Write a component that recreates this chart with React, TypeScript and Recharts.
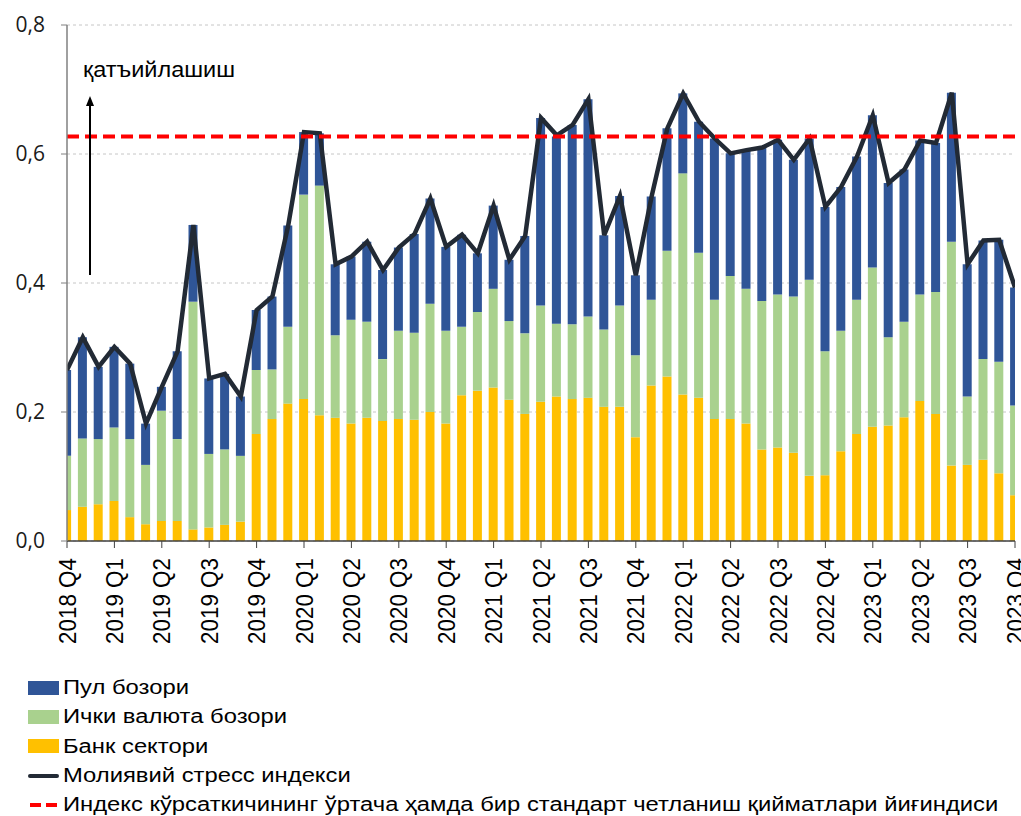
import { Bar, CartesianGrid, ComposedChart, Line, ReferenceLine, XAxis, YAxis } from "recharts";

const quarterLabels = [
  "2018 Q4", "2019 Q1", "2019 Q2", "2019 Q3", "2019 Q4",
  "2020 Q1", "2020 Q2", "2020 Q3", "2020 Q4",
  "2021 Q1", "2021 Q2", "2021 Q3", "2021 Q4",
  "2022 Q1", "2022 Q2", "2022 Q3", "2022 Q4",
  "2023 Q1", "2023 Q2", "2023 Q3", "2023 Q4",
];

// monthly values, Dec 2018 .. Dec 2023
const bankSector = [
  0.048, 0.053, 0.057, 0.062, 0.037, 0.026, 0.031, 0.031, 0.018, 0.021, 0.025, 0.030,
  0.166, 0.189, 0.213, 0.220, 0.195, 0.191, 0.182, 0.191, 0.186, 0.189, 0.188, 0.200,
  0.182, 0.226, 0.233, 0.238, 0.219, 0.197, 0.216, 0.224, 0.220, 0.222, 0.208, 0.208,
  0.161, 0.241, 0.255, 0.227, 0.222, 0.189, 0.189, 0.182, 0.142, 0.145, 0.137, 0.101,
  0.102, 0.139, 0.166, 0.177, 0.179, 0.192, 0.217, 0.197, 0.117, 0.118, 0.126, 0.105,
  0.071,
];

const fxMarket = [
  0.084, 0.106, 0.101, 0.114, 0.121, 0.092, 0.171, 0.127, 0.353, 0.114, 0.117, 0.102,
  0.099, 0.077, 0.119, 0.317, 0.356, 0.128, 0.161, 0.149, 0.096, 0.137, 0.135, 0.168,
  0.144, 0.106, 0.122, 0.153, 0.122, 0.125, 0.149, 0.113, 0.116, 0.126, 0.120, 0.157,
  0.127, 0.133, 0.195, 0.343, 0.225, 0.185, 0.222, 0.209, 0.230, 0.237, 0.242, 0.304,
  0.192, 0.187, 0.208, 0.247, 0.137, 0.148, 0.165, 0.189, 0.347, 0.106, 0.156, 0.173,
  0.139,
];

const moneyMarket = [
  0.133, 0.157, 0.112, 0.125, 0.117, 0.064, 0.037, 0.136, 0.119, 0.117, 0.117, 0.092,
  0.093, 0.113, 0.157, 0.097, 0.081, 0.110, 0.098, 0.124, 0.138, 0.129, 0.153, 0.163,
  0.130, 0.143, 0.091, 0.129, 0.095, 0.151, 0.291, 0.290, 0.309, 0.337, 0.146, 0.170,
  0.124, 0.160, 0.190, 0.124, 0.203, 0.250, 0.190, 0.215, 0.238, 0.240, 0.212, 0.219,
  0.224, 0.223, 0.222, 0.236, 0.239, 0.236, 0.239, 0.231, 0.231, 0.205, 0.184, 0.189,
  0.183,
];

const stressIndex = [
  0.265, 0.316, 0.270, 0.301, 0.275, 0.182, 0.239, 0.294, 0.490, 0.252, 0.259, 0.224,
  0.358, 0.379, 0.489, 0.634, 0.632, 0.429, 0.441, 0.464, 0.420, 0.455, 0.476, 0.531,
  0.456, 0.475, 0.446, 0.520, 0.436, 0.473, 0.656, 0.629, 0.645, 0.685, 0.474, 0.535,
  0.412, 0.534, 0.640, 0.694, 0.650, 0.624, 0.601, 0.606, 0.610, 0.622, 0.591, 0.624,
  0.518, 0.549, 0.596, 0.660, 0.555, 0.576, 0.621, 0.617, 0.695, 0.429, 0.466, 0.467,
  0.393,
];

const threshold = 0.627;

const yTicks = [0, 0.2, 0.4, 0.6, 0.8];

const BLUE = "#2F5597";
const GREEN = "#A9D18E";
const YELLOW = "#FFC000";
const DARK = "#222A35";
const RED = "#FF0000";

const data = bankSector.map((bank, m) => ({
  m,
  bank,
  fx: fxMarket[m],
  money: moneyMarket[m],
  index: stressIndex[m],
}));

function QuarterTick({ x, y, payload }: any) {
  const label = quarterLabels[Math.round(payload.value / 3)];
  return (
    <g transform={`translate(${x},${y + 8})`}>
      <text
        transform="rotate(-90)"
        textAnchor="end"
        dy="0.36em"
        fontSize={24}
        fontFamily="'Liberation Sans', Arial, sans-serif"
        fill="#000"
        textLength={86}
        lengthAdjust="spacingAndGlyphs"
      >
        {label}
      </text>
    </g>
  );
}

const legendItems = [
  { name: "Пул бозори", kind: "box", color: BLUE },
  { name: "Ички валюта бозори", kind: "box", color: GREEN },
  { name: "Банк сектори", kind: "box", color: YELLOW },
  { name: "Молиявий стресс индекси", kind: "line", color: DARK },
  { name: "Индекс кўрсаткичининг ўртача ҳамда бир стандарт четланиш қийматлари йиғиндиси", kind: "dash", color: RED },
];

function LegendIcon({ kind, color }: { kind: string; color: string }) {
  if (kind === "box") return <span style={{ display: "inline-block", width: 31, height: 14, background: color }} />;
  if (kind === "line") return <span style={{ display: "inline-block", width: 31, height: 4, background: color, borderRadius: 2 }} />;
  return (
    <span style={{ display: "inline-flex", width: 31, gap: 5, justifyContent: "center" }}>
      <span style={{ width: 11, height: 4, background: color }} />
      <span style={{ width: 11, height: 4, background: color }} />
    </span>
  );
}

export default function App() {
  return (
    <div style={{ position: "absolute", left: 0, top: 0, width: 1021, height: 816, background: "#fff" }}>
      <ComposedChart width={1021} height={660} data={data} margin={{ top: 25, right: 6, bottom: 0, left: 0 }}>
        <CartesianGrid vertical={false} stroke="#c6c6c6" strokeDasharray="3 3" />
        <Bar dataKey="bank" stackId="s" fill={YELLOW} barSize={9} isAnimationActive={false} />
        <Bar dataKey="fx" stackId="s" fill={GREEN} barSize={9} isAnimationActive={false} />
        <Bar dataKey="money" stackId="s" fill={BLUE} barSize={9} isAnimationActive={false} />
        <Line
          dataKey="index"
          type="linear"
          stroke={DARK}
          strokeWidth={4.5}
          dot={false}
          isAnimationActive={false}
        />
        <ReferenceLine y={threshold} stroke={RED} strokeWidth={4} strokeDasharray="12 6" />
        <XAxis
          type="number"
          dataKey="m"
          domain={[0, 60]}
          allowDataOverflow
          ticks={quarterLabels.map((_, q) => q * 3)}
          interval={0}
          height={119}
          tickSize={7}
          axisLine={{ stroke: "#404040", strokeWidth: 1.5 }}
          tickLine={{ stroke: "#404040" }}
          tick={<QuarterTick />}
        />
        <YAxis
          domain={[0, 0.8]}
          ticks={yTicks}
          width={67}
          tickSize={6}
          tickMargin={16}
          axisLine={{ stroke: "#808080", strokeWidth: 1.5 }}
          tickLine={{ stroke: "#808080" }}
          tick={{ fontSize: 21, fontFamily: "'Open Sans', sans-serif", fill: "#1a1a1a" }}
          tickFormatter={(v: number) => v.toFixed(1).replace(".", ",")}
        />
      </ComposedChart>

      <svg width={300} height={300} style={{ position: "absolute", left: 0, top: 0, pointerEvents: "none" }}>
        <text x={83} y={77} fontSize={22} fontFamily="'Liberation Sans', Arial, sans-serif" fill="#000" textLength={152} lengthAdjust="spacingAndGlyphs">
          қатъийлашиш
        </text>
        <line x1={90} y1={275} x2={90} y2={104} stroke="#000" strokeWidth={2} />
        <path d="M86,106 L90,96 L94,106 Z" fill="#000" />
      </svg>

      <div
        style={{
          position: "absolute",
          left: 28,
          top: 673,
          fontFamily: "'Liberation Sans', Arial, sans-serif",
          fontSize: 19.5,
          color: "#000",
        }}
      >
        {legendItems.map((it) => (
          <div key={it.name} style={{ display: "flex", alignItems: "center", height: 29.3, gap: 4, whiteSpace: "nowrap" }}>
            <LegendIcon kind={it.kind} color={it.color} />
            <span style={{ display: "inline-block", transform: "scaleX(1.22)", transformOrigin: "left center" }}>{it.name}</span>
          </div>
        ))}
      </div>
    </div>
  );
}
